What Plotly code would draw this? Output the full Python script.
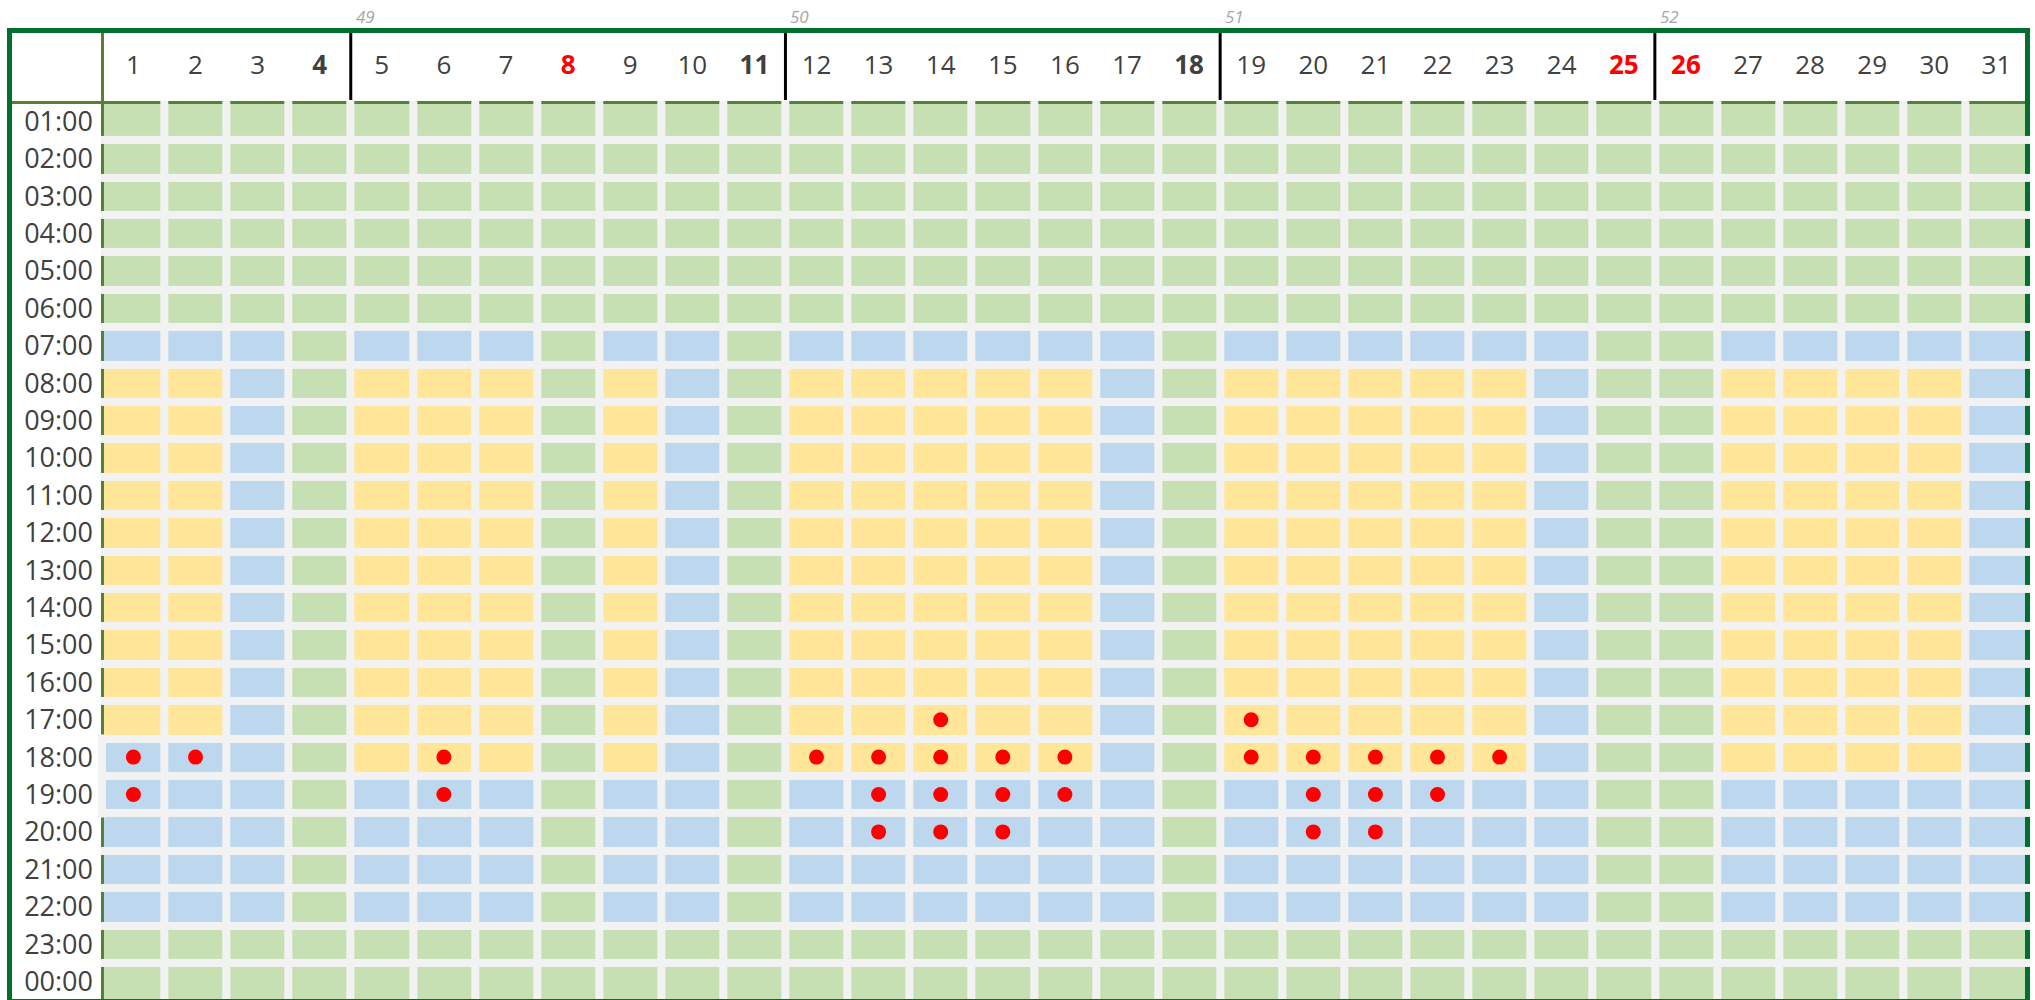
import plotly.graph_objects as go

# ---------------- data ----------------
days = list(range(1, 32))
hours = ["01:00", "02:00", "03:00", "04:00", "05:00", "06:00", "07:00", "08:00",
         "09:00", "10:00", "11:00", "12:00", "13:00", "14:00", "15:00", "16:00",
         "17:00", "18:00", "19:00", "20:00", "21:00", "22:00", "23:00", "00:00"]
bold_days = [4, 11, 18]          # Sundays (bold)
red_days = [8, 25, 26]           # holidays (bold red)
week_numbers = [49, 50, 51, 52]
week_start_days = [5, 12, 19, 26]

# band per hour row, one character per day (G = green, B = blue, Y = yellow)
band_rows = [
    "GGGGGGGGGGGGGGGGGGGGGGGGGGGGGGG",  # 01:00
    "GGGGGGGGGGGGGGGGGGGGGGGGGGGGGGG",  # 02:00
    "GGGGGGGGGGGGGGGGGGGGGGGGGGGGGGG",  # 03:00
    "GGGGGGGGGGGGGGGGGGGGGGGGGGGGGGG",  # 04:00
    "GGGGGGGGGGGGGGGGGGGGGGGGGGGGGGG",  # 05:00
    "GGGGGGGGGGGGGGGGGGGGGGGGGGGGGGG",  # 06:00
    "BBBGBBBGBBGBBBBBBGBBBBBBGGBBBBB",  # 07:00
    "YYBGYYYGYBGYYYYYBGYYYYYBGGYYYYB",  # 08:00
    "YYBGYYYGYBGYYYYYBGYYYYYBGGYYYYB",  # 09:00
    "YYBGYYYGYBGYYYYYBGYYYYYBGGYYYYB",  # 10:00
    "YYBGYYYGYBGYYYYYBGYYYYYBGGYYYYB",  # 11:00
    "YYBGYYYGYBGYYYYYBGYYYYYBGGYYYYB",  # 12:00
    "YYBGYYYGYBGYYYYYBGYYYYYBGGYYYYB",  # 13:00
    "YYBGYYYGYBGYYYYYBGYYYYYBGGYYYYB",  # 14:00
    "YYBGYYYGYBGYYYYYBGYYYYYBGGYYYYB",  # 15:00
    "YYBGYYYGYBGYYYYYBGYYYYYBGGYYYYB",  # 16:00
    "YYBGYYYGYBGYYYYYBGYYYYYBGGYYYYB",  # 17:00
    "BBBGYYYGYBGYYYYYBGYYYYYBGGYYYYB",  # 18:00
    "BBBGBBBGBBGBBBBBBGBBBBBBGGBBBBB",  # 19:00
    "BBBGBBBGBBGBBBBBBGBBBBBBGGBBBBB",  # 20:00
    "BBBGBBBGBBGBBBBBBGBBBBBBGGBBBBB",  # 21:00
    "BBBGBBBGBBGBBBBBBGBBBBBBGGBBBBB",  # 22:00
    "GGGGGGGGGGGGGGGGGGGGGGGGGGGGGGG",  # 23:00
    "GGGGGGGGGGGGGGGGGGGGGGGGGGGGGGG",  # 00:00
]
band_codes = {"G": 0, "B": 1, "Y": 2}

# red dots (peak hours)
peak_day = [14, 19,
            1, 2, 6, 12, 13, 14, 15, 16, 19, 20, 21, 22, 23,
            1, 6, 13, 14, 15, 16, 20, 21, 22,
            13, 14, 15, 20, 21]
peak_hour = ["17:00", "17:00",
             "18:00", "18:00", "18:00", "18:00", "18:00", "18:00", "18:00",
             "18:00", "18:00", "18:00", "18:00", "18:00", "18:00",
             "19:00", "19:00", "19:00", "19:00", "19:00", "19:00", "19:00",
             "19:00", "19:00",
             "20:00", "20:00", "20:00", "20:00", "20:00"]
highlight_hours = ["18:00", "19:00"]   # rows without the left rule

# ---------------- styles ----------------
GREEN, BLUE, YELLOW = "#C6E0B4", "#BDD7EE", "#FFE699"
GAPGRAY = "#F2F2F2"
OLIVE = "#548235"
DARK = "#00702F"
TEXT = "#404040"
RED = "#FF0000"

W, H = 2035, 1000
def fx(px):
    return px / W
def fy(py):
    return 1 - py / H

GRID_L, GRID_R, GRID_T, GRID_B = 104, 2025, 104, 999
COL_PITCH, COL1_C = 62.1, 133.4
ROW_PITCH, ROW1_C = 37.4, 121.3
GAP = 8

n_rows = len(hours)
row_idx = list(range(n_rows))
x_edges = [days[0] - 1.0] + [d + 0.5 for d in days[:-1]] + [days[-1] + 1.0]
y_edges = [-1.0] + [k + 0.5 for k in row_idx[:-1]] + [row_idx[-1] + 1.0]

z = [[band_codes[c] for c in row] for row in band_rows]

fig = go.Figure()
fig.add_trace(go.Heatmap(
    z=z, x=x_edges, y=y_edges, xgap=GAP, ygap=GAP,
    zmin=0, zmax=2, showscale=False, hoverinfo="skip",
    colorscale=[[0, GREEN], [1 / 3, GREEN], [1 / 3, BLUE], [2 / 3, BLUE],
                [2 / 3, YELLOW], [1, YELLOW]],
    xaxis="x", yaxis="y"))

# olive rule under the header (one brick per day)
fig.add_trace(go.Heatmap(
    z=[[1] * len(days)], x=x_edges, y=[0, 1], xgap=GAP, ygap=0,
    zmin=0, zmax=1, showscale=False, hoverinfo="skip",
    colorscale=[[0, OLIVE], [1, OLIVE]], xaxis="x", yaxis="y2"))

# olive rule left of the grid (one brick per hour)
fig.add_trace(go.Heatmap(
    z=[[None] if h in highlight_hours else [1] for h in hours],
    x=[0, 1], y=y_edges, xgap=0, ygap=GAP,
    zmin=0, zmax=1, showscale=False, hoverinfo="skip",
    colorscale=[[0, OLIVE], [1, OLIVE]], xaxis="x2", yaxis="y"))

# dark frame on the right (one brick per hour)
fig.add_trace(go.Heatmap(
    z=[[1] for h in hours], x=[0, 1], y=y_edges, xgap=0, ygap=GAP,
    zmin=0, zmax=1, showscale=False, hoverinfo="skip",
    colorscale=[[0, DARK], [1, DARK]], xaxis="x3", yaxis="y"))

fig.add_trace(go.Scatter(
    x=peak_day, y=[hours.index(h) for h in peak_hour], mode="markers",
    marker=dict(size=15, color=RED, line=dict(width=0)),
    hoverinfo="skip", xaxis="x", yaxis="y"))

def day_label(d):
    if d in red_days:
        return f"<span style='color:{RED}'><b>{d}</b></span>"
    if d in bold_days:
        return f"<b>{d}</b>"
    return str(d)

x_range = [1 - (COL1_C - GRID_L) / COL_PITCH, 1 + (GRID_R - COL1_C) / COL_PITCH]
y_range = [(GRID_B - ROW1_C) / ROW_PITCH, (GRID_T - ROW1_C) / ROW_PITCH]

shapes = []
def rect(x0, y0, x1, y1, color, layer="above"):
    shapes.append(dict(type="rect", xref="paper", yref="paper",
                       x0=fx(x0), x1=fx(x1), y0=fy(y1), y1=fy(y0),
                       fillcolor=color, line=dict(width=0), layer=layer))

# outer frame
rect(7, 28, 12, 1004, DARK)
rect(7, 28, 2030, 33, DARK)
rect(2025, 28, 2030, 104, DARK)
rect(7, 999, 2030, 1004, DARK)
# top-left corner cell borders
rect(101, 33, 104, 104, OLIVE)
rect(12, 101, 104, 104, OLIVE)
# highlight gap next to 18:00 / 19:00
rect(98, 734.5, 106, 817.5, GAPGRAY)

# week separators in header
for d in week_start_days:
    shapes.append(dict(type="line", xref="x", yref="paper",
                       x0=d - 0.5, x1=d - 0.5, y0=fy(100), y1=fy(33),
                       line=dict(color="#000000", width=3), layer="above"))

annotations = [dict(text=f"<i>{wk}</i>", xref="x", yref="paper",
                    x=d - 0.5, y=fy(16), xanchor="left", yanchor="middle",
                    xshift=3, showarrow=False,
                    font=dict(size=17, color="#A6A6A6"))
               for wk, d in zip(week_numbers, week_start_days)]

fig.update_layout(
    width=W, height=H,
    margin=dict(l=0, r=0, t=0, b=0, autoexpand=False),
    paper_bgcolor="#FFFFFF", plot_bgcolor=GAPGRAY,
    font=dict(family="Open Sans", color=TEXT),
    showlegend=False,
    shapes=shapes, annotations=annotations,
    xaxis=dict(domain=[fx(GRID_L), fx(GRID_R)], anchor="y", side="top",
               range=x_range, tickmode="array", tickvals=days,
               ticktext=[day_label(d) for d in days],
               tickfont=dict(size=26, color=TEXT), ticks="",
               ticklabelstandoff=24,
               showgrid=False, zeroline=False, showline=False, fixedrange=True),
    yaxis=dict(domain=[fy(GRID_B), fy(GRID_T)], anchor="x",
               range=y_range, tickmode="array", tickvals=row_idx, ticktext=hours,
               tickfont=dict(size=27, color=TEXT), ticks="",
               ticklabelstandoff=10,
               showgrid=False, zeroline=False, showline=False, fixedrange=True),
    yaxis2=dict(domain=[fy(104), fy(101)], anchor="x", range=[0, 1],
                visible=False, fixedrange=True),
    xaxis2=dict(domain=[fx(101), fx(104)], anchor="y", range=[0, 1],
                visible=False, fixedrange=True),
    xaxis3=dict(domain=[fx(2025), fx(2030)], anchor="y", range=[0, 1],
                visible=False, fixedrange=True),
)

fig.write_html("out.html",
               config={"displayModeBar": False, "staticPlot": True},
               post_script="document.body.style.margin='0px';"
                           "document.body.style.overflow='hidden';")
